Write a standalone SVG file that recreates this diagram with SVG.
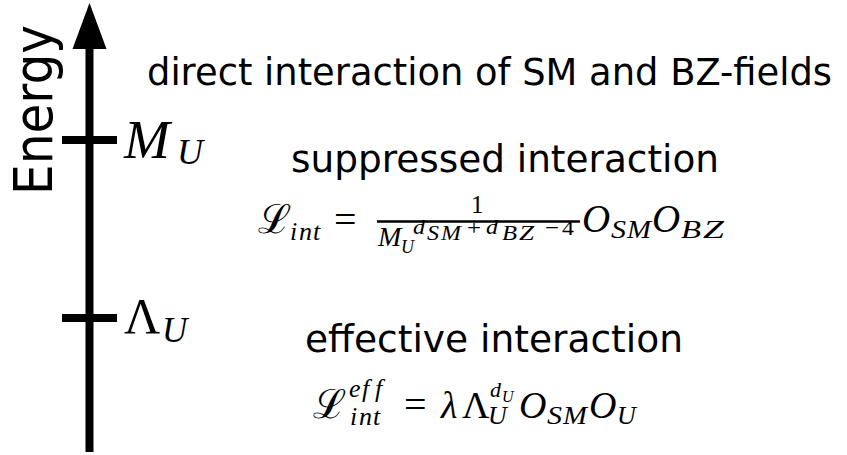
<svg xmlns="http://www.w3.org/2000/svg" width="847" height="455" viewBox="0 0 847 455">
<style>
.lbl{font-family:"DejaVu Sans","Liberation Sans",sans-serif;fill:#000}
.m{font-family:"Liberation Serif","DejaVu Serif",serif;font-style:italic;fill:#000;font-variant-ligatures:none}
.r{font-family:"Liberation Serif","DejaVu Serif",serif;font-style:normal;fill:#000}
.ax{stroke:#000;stroke-width:8;fill:none}
</style>
<rect width="847" height="455" fill="#fff"/>
<g id="axis">
<line class="ax" x1="89.5" y1="452" x2="89.5" y2="40"/>
<polygon points="89.5,3 72.5,49 106.5,49" fill="#000"/>
<text class="lbl" transform="translate(52,195) rotate(-90)" font-size="54" textLength="170" lengthAdjust="spacingAndGlyphs">Energy</text>
</g>
<g id="ticks">
<line class="ax" x1="62" y1="140" x2="117" y2="140"/>
<line class="ax" x1="62" y1="318" x2="117" y2="318"/>
</g>
<g id="label-MU">
<text class="m" x="124" y="158" font-size="55">M</text>
<text class="m" x="177" y="164" font-size="36">U</text>
</g>
<g id="label-LambdaU">
<text class="r" x="124" y="333" font-size="50">Λ</text>
<text class="m" x="162" y="342" font-size="35">U</text>
</g>
<g id="direct">
<text class="lbl" x="147" y="85" font-size="37" textLength="685" lengthAdjust="spacingAndGlyphs">direct interaction of SM and BZ-fields</text>
</g>
<g id="suppressed">
<text class="lbl" x="291" y="172" font-size="37" textLength="428" lengthAdjust="spacingAndGlyphs">suppressed interaction</text>
<text class="r" x="258" y="233" font-size="40">ℒ</text>
<text class="m" x="290 299 313" y="240" font-size="26">int</text>
<text class="r" x="334" y="233" font-size="40">=</text>
<text class="r" x="471" y="213" font-size="25">1</text>
<line x1="377" y1="221.5" x2="580" y2="221.5" stroke="#000" stroke-width="2.5"/>
<text class="m" x="378" y="246" font-size="28">M</text>
<text class="m" x="401" y="253" font-size="18">U</text>
<text class="m" x="413" y="234" font-size="22" textLength="12" lengthAdjust="spacingAndGlyphs">d</text>
<text class="m" x="427" y="240" font-size="20" textLength="12" lengthAdjust="spacingAndGlyphs">S</text>
<text class="m" x="441" y="240" font-size="20" textLength="20" lengthAdjust="spacingAndGlyphs">M</text>
<text class="r" x="467" y="235" font-size="22" textLength="14" lengthAdjust="spacingAndGlyphs">+</text>
<text class="m" x="486" y="234" font-size="22" textLength="12" lengthAdjust="spacingAndGlyphs">d</text>
<text class="m" x="502" y="240" font-size="20" textLength="15" lengthAdjust="spacingAndGlyphs">B</text>
<text class="m" x="519" y="240" font-size="20" textLength="15" lengthAdjust="spacingAndGlyphs">Z</text>
<text class="r" x="545" y="235" font-size="22" textLength="14" lengthAdjust="spacingAndGlyphs">−</text>
<text class="r" x="562" y="235" font-size="22" textLength="12" lengthAdjust="spacingAndGlyphs">4</text>
<text class="m" x="582" y="232" font-size="39">O</text>
<text class="m" x="611" y="238" font-size="26" textLength="15" lengthAdjust="spacingAndGlyphs">S</text>
<text class="m" x="627" y="238" font-size="26" textLength="24" lengthAdjust="spacingAndGlyphs">M</text>
<text class="m" x="652" y="232" font-size="39">O</text>
<text class="m" x="681" y="238" font-size="26" textLength="20" lengthAdjust="spacingAndGlyphs">B</text>
<text class="m" x="703" y="238" font-size="26" textLength="21" lengthAdjust="spacingAndGlyphs">Z</text>
</g>
<g id="effective">
<text class="lbl" x="305" y="352" font-size="37" textLength="378" lengthAdjust="spacingAndGlyphs">effective interaction</text>
<text class="r" x="313" y="418" font-size="40">ℒ</text>
<text class="m" x="349 362 375" y="397" font-size="26">eff</text>
<text class="m" x="350 359 373" y="425" font-size="26">int</text>
<text class="r" x="404" y="418" font-size="40">=</text>
<text class="m" x="441" y="418" font-size="38">λ</text>
<text class="r" x="462" y="418" font-size="38">Λ</text>
<text class="m" x="490" y="397" font-size="22">d</text>
<text class="m" x="502" y="402" font-size="16">U</text>
<text class="m" x="488" y="424" font-size="26">U</text>
<text class="m" x="519" y="418" font-size="38">O</text>
<text class="m" x="547" y="424" font-size="26" textLength="15" lengthAdjust="spacingAndGlyphs">S</text>
<text class="m" x="563" y="424" font-size="26" textLength="24" lengthAdjust="spacingAndGlyphs">M</text>
<text class="m" x="589" y="418" font-size="38">O</text>
<text class="m" x="617" y="424" font-size="26">U</text>
</g>
</svg>
